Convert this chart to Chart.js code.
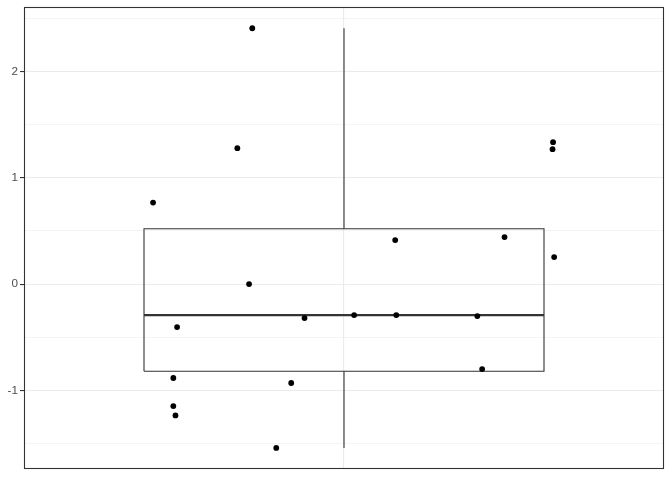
<!DOCTYPE html>
<html>
<head>
<meta charset="utf-8">
<script src="https://cdn.jsdelivr.net/npm/chart.js@4/dist/chart.umd.min.js"></script>
<style>
html,body{margin:0;padding:0;background:#fff;}
#wrap{width:672px;height:480px;}
</style>
</head>
<body>
<div id="wrap"><canvas id="c" width="672" height="480"></canvas></div>
<script>
// jittered point positions (category units, centre = 1) and values
const pointX = [0.642, 0.687, 0.680, 0.680, 0.684, 0.828, 0.800, 0.822, 0.926, 1.019,
                1.098, 1.250, 1.259, 0.901, 0.873, 1.392, 1.391, 1.301, 1.394, 1.096];
const pointY = [0.767, -0.404, -0.883, -1.147, -1.235, 2.406, 1.278, 0.000, -0.320, -0.291,
                -0.291, -0.301, -0.799, -0.930, -1.541, 1.335, 1.269, 0.442, 0.254, 0.414];
// box statistics: [lower whisker, Q1, median, Q3, upper whisker]
const boxStats = [-1.541, -0.820, -0.291, 0.520, 2.406];
const boxCentre = [1];
const boxHalfWidth = [0.375];
const yTickLabels = [-1, 0, 1, 2];

const c = boxCentre[0], hw = boxHalfWidth[0];
const [wLo, q1, med, q3, wHi] = boxStats;

const pts = pointX.map((x, i) => ({x: x, y: pointY[i]}));
const boxOutline = [
  {x: c - hw, y: q1}, {x: c + hw, y: q1}, {x: c + hw, y: q3}, {x: c - hw, y: q3}, {x: c - hw, y: q1}
];
const medianLine = [{x: c - hw, y: med}, {x: c + hw, y: med}];
const upperWhisker = [{x: c, y: q3}, {x: c, y: wHi}];
const lowerWhisker = [{x: c, y: q1}, {x: c, y: wLo}];

const lineDs = (data, w) => ({
  type: 'scatter', data: data, showLine: true, borderColor: '#333333', borderWidth: w,
  pointRadius: 0, fill: false, order: 2, tension: 0, borderCapStyle: 'butt'
});

const panelBorder = {
  id: 'panelBorder',
  afterDraw(chart) {
    const a = chart.chartArea, ctx = chart.ctx;
    ctx.save();
    ctx.strokeStyle = '#333333';
    ctx.lineWidth = 1.1;
    ctx.strokeRect(a.left + 0.5, a.top + 0.5, a.right - a.left - 1, a.bottom - a.top - 1);
    ctx.restore();
  }
};

new Chart(document.getElementById('c'), {
  type: 'scatter',
  data: {
    datasets: [
      {data: pts, backgroundColor: '#000000', borderColor: '#000000', pointRadius: 2.9,
       pointBorderWidth: 0, order: 0},
      lineDs(medianLine, 2.2),
      lineDs(boxOutline, 1.1),
      lineDs(upperWhisker, 1.1),
      lineDs(lowerWhisker, 1.1)
    ]
  },
  options: {
    responsive: false,
    animation: false,
    devicePixelRatio: 1,
    layout: {padding: {top: 7, right: 8, left: 0, bottom: 0}},
    plugins: {legend: {display: false}, tooltip: {enabled: false}},
    scales: {
      x: {
        type: 'linear', min: 0.4, max: 1.6,
        afterBuildTicks(axis) { axis.ticks = boxCentre.map(v => ({value: v})); },
        afterFit(axis) { axis.height = 11; axis.paddingLeft = 0; axis.paddingRight = 0; },
        ticks: {display: false},
        grid: {color: '#EBEBEB', lineWidth: 1.1, drawTicks: false},
        border: {display: false}
      },
      y: {
        type: 'linear', min: -1.739, max: 2.606,
        afterBuildTicks(axis) {
          const t = [];
          for (let v = -1.5; v <= 2.5001; v += 0.5) t.push({value: Math.round(v * 10) / 10});
          axis.ticks = t;
        },
        afterFit(axis) { axis.width = 24; axis.paddingTop = 0; axis.paddingBottom = 0; },
        ticks: {
          autoSkip: false,
          color: '#4D4D4D',
          font: {family: 'Liberation Sans, Arial, sans-serif', size: 11.7},
          padding: 2,
          callback: (v) => yTickLabels.includes(v) ? String(v) : ''
        },
        grid: {
          color: (ctx) => '#EBEBEB',
          lineWidth: (ctx) => (ctx.tick && Number.isInteger(ctx.tick.value)) ? 1.1 : 0.55,
          tickColor: (ctx) => (ctx.tick && Number.isInteger(ctx.tick.value)) ? '#333333' : 'rgba(0,0,0,0)',
          tickLength: 4,
          tickWidth: 1.1
        },
        border: {display: false}
      }
    }
  },
  plugins: [panelBorder]
});
</script>
</body>
</html>
